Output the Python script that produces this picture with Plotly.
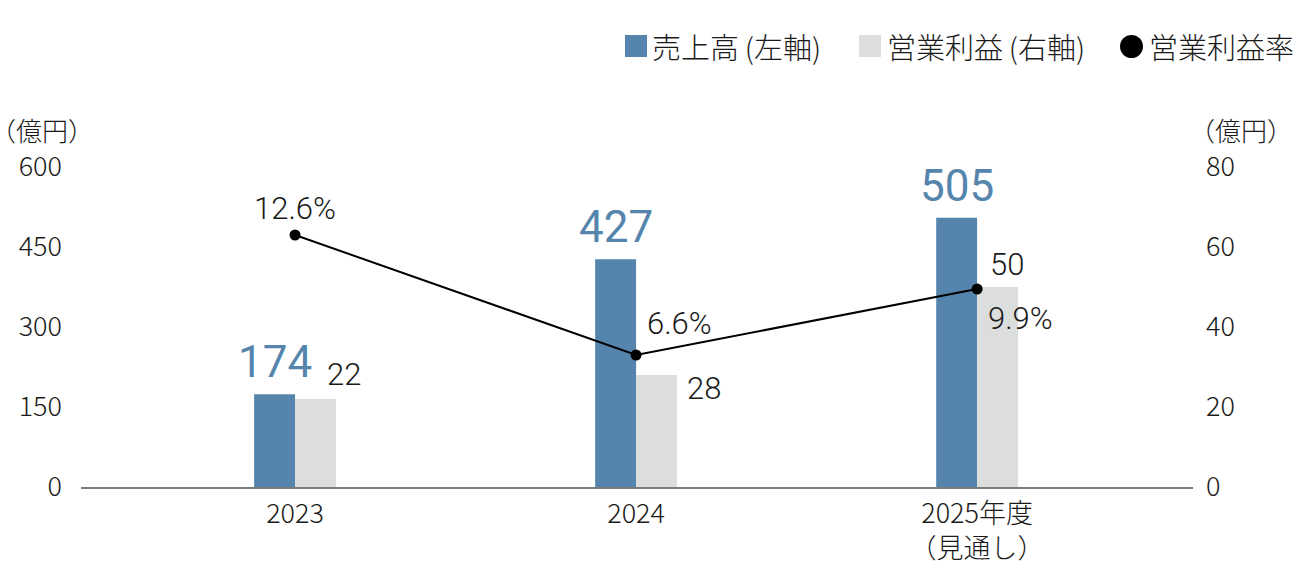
import plotly.graph_objects as go

# ---- data ----
categories = ["2023", "2024", "2025年度<br>（見通し）"]
sales = [174, 427, 505]            # 売上高（左軸, 億円）
op_profit = [22, 28, 50]           # 営業利益（右軸, 億円）
op_margin = [12.6, 6.6, 9.9]       # 営業利益率（%）
left_ticks = [0, 150, 300, 450, 600]
right_ticks = [0, 20, 40, 60, 80]
legend_labels = ["売上高\u2009(左軸)", "営業利益\u2009(右軸)", "営業利益率"]
unit_label = "（億円）"

# ---- style ----
OFF = 8                      # page body margin of the html page
PAGE_W, PAGE_H = 1311, 564
W, H = PAGE_W - OFF, PAGE_H - OFF
PL, PR, PT, PB = 81, 1193, 167, 487   # plot area in page pixels
ML, MT = PL - OFF, PT - OFF
MR, MB = PAGE_W - PR, PAGE_H - PB
BLUE = "#5585ac"
GREY = "#dcdddd"
TXT = "#1a1a1a"
BAR_W = 0.12
CJK = "Noto Sans CJK JP"
NUM = "Roboto"

# label offsets (pixels) relative to each data point
profit_shift = [(49, 25), (68, -13), (30, 23)]
margin_shift = [(0, 27), (43, 32), (43, -29)]

pw = PR - PL
ph = PB - PT


def px(x):
    return (x - PL) / pw


def py(y):
    return (PB - y) / ph


fig = go.Figure()

fig.add_trace(go.Bar(x=categories, y=sales, width=BAR_W, offset=-BAR_W,
                     marker=dict(color=BLUE, line=dict(width=0)),
                     yaxis="y", showlegend=False, hoverinfo="skip"))
fig.add_trace(go.Bar(x=categories, y=op_profit, width=BAR_W, offset=0,
                     marker=dict(color=GREY, line=dict(width=0)),
                     yaxis="y2", showlegend=False, hoverinfo="skip"))
fig.add_trace(go.Scatter(x=categories, y=op_margin, mode="lines+markers",
                         line=dict(color="black", width=2),
                         marker=dict(color="black", size=11),
                         yaxis="y3", showlegend=False, hoverinfo="skip"))

ann = []
for i, v in enumerate(sales):
    ann.append(dict(x=i - BAR_W / 2, y=v, xref="x", yref="y", text=str(v),
                    showarrow=False, yanchor="middle", yshift=32,
                    font=dict(family=NUM, size=44, color=BLUE)))
for i, v in enumerate(op_profit):
    dx, dy = profit_shift[i]
    ann.append(dict(x=i, y=v, xref="x", yref="y2", text=str(v),
                    showarrow=False, yanchor="middle", xshift=dx, yshift=dy,
                    font=dict(family=NUM, size=31, color=TXT, weight=300)))
for i, v in enumerate(op_margin):
    dx, dy = margin_shift[i]
    ann.append(dict(x=i, y=v, xref="x", yref="y3", text=f"{v:.1f}%",
                    showarrow=False, yanchor="middle", xshift=dx, yshift=dy,
                    font=dict(family=NUM, size=31, color=TXT, weight=300)))

# unit labels
ann.append(dict(x=px(42), y=py(129), xref="paper", yref="paper", text=unit_label,
                showarrow=False, xanchor="center", yanchor="middle",
                font=dict(family=CJK, size=26, color=TXT, weight=300)))
ann.append(dict(x=px(1241), y=py(129), xref="paper", yref="paper", text=unit_label,
                showarrow=False, xanchor="center", yanchor="middle",
                font=dict(family=CJK, size=26, color=TXT, weight=300)))

# legend (manual, for full-size keys)
leg_text_x = [650, 885, 1147]
for t, lx in zip(legend_labels, leg_text_x):
    ann.append(dict(x=px(lx), y=py(46), xref="paper", yref="paper", text=t,
                    showarrow=False, xanchor="left", yanchor="middle",
                    font=dict(family=CJK, size=29, color=TXT, weight=300)))
shapes = [
    dict(type="rect", xref="paper", yref="paper", x0=px(625), x1=px(647),
         y0=py(57), y1=py(35), fillcolor=BLUE, line=dict(width=0)),
    dict(type="rect", xref="paper", yref="paper", x0=px(859), x1=px(881),
         y0=py(57), y1=py(35), fillcolor=GREY, line=dict(width=0)),
    dict(type="circle", xref="paper", yref="paper", x0=px(1120), x1=px(1143),
         y0=py(58), y1=py(35), fillcolor="black", line=dict(width=0)),
]

tickfont = dict(family=CJK, size=27, color=TXT, weight=300)
fig.update_layout(
    width=W, height=H,
    margin=dict(l=ML, r=MR, t=MT, b=MB, pad=0, autoexpand=False),
    paper_bgcolor="white", plot_bgcolor="white",
    showlegend=False,
    xaxis=dict(type="category", range=[-0.6276, 2.633], showgrid=False,
               zeroline=False, showline=True, linecolor="#7a7a7a", linewidth=1.5,
               ticks="", tickfont=tickfont, ticklabelstandoff=2, fixedrange=True,
               automargin=False),
    yaxis=dict(range=[0, 600], tickvals=left_ticks, showgrid=False, zeroline=False,
               showline=False, ticks="", tickfont=tickfont, ticklabelstandoff=18,
               fixedrange=True, automargin=False),
    yaxis2=dict(range=[0, 80], tickvals=right_ticks, overlaying="y", side="right",
                showgrid=False, zeroline=False, showline=False, ticks="",
                tickfont=tickfont, ticklabelstandoff=12, fixedrange=True,
                automargin=False),
    yaxis3=dict(range=[0, 16], overlaying="y", visible=False, fixedrange=True,
                automargin=False),
    annotations=ann,
    shapes=shapes,
)

fig.write_html("out.html")
